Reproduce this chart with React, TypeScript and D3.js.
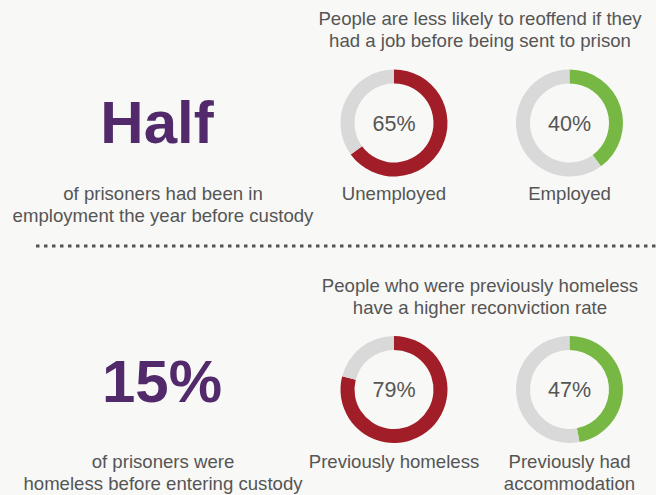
import React from "react";
import * as d3 from "d3";

const headlines = ["Half", "15%"];
const headlineNotes = [
  ["of prisoners had been in", "employment the year before custody"],
  ["of prisoners were", "homeless before entering custody"],
];
const panelTitles = [
  ["People are less likely to reoffend if they", "had a job before being sent to prison"],
  ["People who were previously homeless", "have a higher reconviction rate"],
];
const donutLabels = [
  [["Unemployed"], ["Employed"]],
  [["Previously homeless"], ["Previously had", "accommodation"]],
];
const donutValues = [
  [65, 40],
  [79, 47],
];

const W = 656;
const H = 495;
const BG = "#f8f8f6";
const TEXT = "#555555";
const PURPLE = "#522a6b";
const RED = "#a11d27";
const GREEN = "#76b843";
const GREY = "#d9d9d9";
const FONT = "'Liberation Sans', Arial, Helvetica, sans-serif";
const FS = 18.6;

const sectionY = [0, 267];
const headlineX = [157, 162];
const labelBase = [200, 201];
const donutX = d3.scaleOrdinal<number, number>().domain([0, 1]).range([394, 569.5]);

const arcGen = d3.arc<any>().innerRadius(39.5).outerRadius(53.5);
const pieGen = d3
  .pie<number>()
  .sort(null)
  .value((d) => d);

export default function App() {
  return (
    <svg
      width={W}
      height={H}
      style={{ position: "absolute", left: 0, top: 0, background: BG }}
      fontFamily={FONT}
    >
      <rect width={W} height={H} fill={BG} />
      {headlines.map((h, s) => {
        const oy = sectionY[s];
        return (
          <g key={s} transform={`translate(0,${oy})`}>
            <text x={headlineX[s]} y={143 - (s ? 8 : 0)} textAnchor="middle" fontSize={60} fontWeight="bold" fill={PURPLE}>
              {h}
            </text>
            {headlineNotes[s].map((l, i) => (
              <text key={i} x={163} y={labelBase[s] + i * 21.5} textAnchor="middle" fontSize={FS} fill={TEXT}>
                {l}
              </text>
            ))}
            {panelTitles[s].map((l, i) => (
              <text key={i} x={480} y={25 + i * 22} textAnchor="middle" fontSize={FS} fill={TEXT}>
                {l}
              </text>
            ))}
            {donutValues[s].map((v, j) => {
              const cx = donutX(j);
              const cy = 123 - (s ? 0.5 : 0);
              const arcs = pieGen([v, 100 - v]);
              const colour = j === 0 ? RED : GREEN;
              return (
                <g key={j}>
                  <g transform={`translate(${cx},${cy})`}>
                    {arcs.map((a, k) => (
                      <path key={k} d={arcGen(a) || ""} fill={k === 0 ? colour : GREY} />
                    ))}
                    <text x={0} y={7.5} textAnchor="middle" fontSize={21.5} fill={TEXT}>
                      {v}%
                    </text>
                  </g>
                  {donutLabels[s][j].map((l, i) => (
                    <text key={i} x={cx} y={labelBase[s] + i * 21.5} textAnchor="middle" fontSize={FS} fill={TEXT}>
                      {l}
                    </text>
                  ))}
                </g>
              );
            })}
          </g>
        );
      })}
      <line
        x1={36}
        x2={W}
        y1={246}
        y2={246}
        stroke="#555"
        strokeWidth={2.8}
        strokeDasharray="3.5 4.5"
      />
    </svg>
  );
}
